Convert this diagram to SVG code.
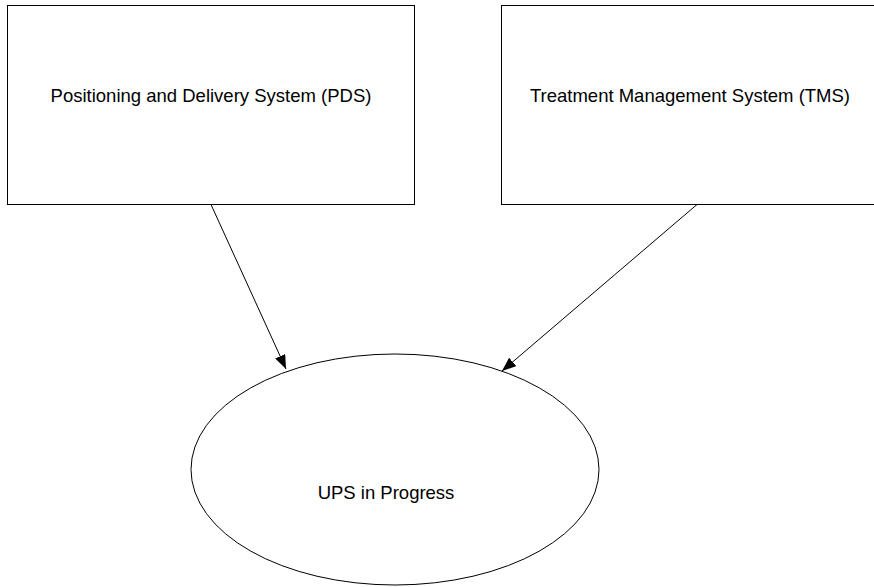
<svg xmlns="http://www.w3.org/2000/svg" width="874" height="587" viewBox="0 0 874 587">
  <style>
    .box { fill: #ffffff; stroke: #000000; stroke-width: 1; }
    .label { font-family: "Liberation Sans", Arial, sans-serif; font-size: 18.5px; fill: #000000; text-anchor: middle; }
    .edge { stroke: #000000; stroke-width: 1; fill: none; marker-end: url(#arrow); }
  </style>
  <defs>
    <marker id="arrow" viewBox="0 0 14 11" refX="14" refY="5.5" markerWidth="14" markerHeight="11" markerUnits="userSpaceOnUse" orient="auto">
      <path d="M0,0 L14,5.5 L0,11 Z" fill="#000000"/>
    </marker>
  </defs>
  <rect width="874" height="587" fill="#ffffff"/>

  <g id="pds">
    <rect class="box" x="7.5" y="5.5" width="407" height="199"/>
    <text class="label" x="211" y="102">Positioning and Delivery System (PDS)</text>
  </g>

  <g id="tms">
    <rect class="box" x="501.5" y="5.5" width="378" height="199"/>
    <text class="label" x="690" y="102">Treatment Management System (TMS)</text>
  </g>

  <g id="ups">
    <ellipse class="box" cx="395" cy="469.5" rx="204" ry="115.5"/>
    <text class="label" x="386" y="499">UPS in Progress</text>
  </g>

  <g id="connectors">
    <line class="edge" x1="211" y1="204.5" x2="286" y2="369"/>
    <line class="edge" x1="697" y1="204.5" x2="502" y2="371"/>
  </g>
</svg>
